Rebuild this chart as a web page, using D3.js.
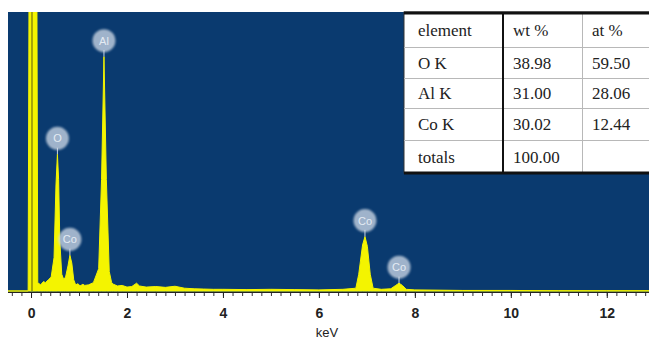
<!DOCTYPE html>
<html>
<head>
<meta charset="utf-8">
<script src="https://cdn.jsdelivr.net/npm/d3@7"></script>
<style>
  html, body { margin: 0; padding: 0; background: #fff; }
  svg { display: block; }
</style>
</head>
<body>
<div id="chart"></div>
<script>
// spectrum: energy (keV) and counts (0..1000 = full plot height)
const energy = [-0.48, -0.06, -0.04, 0.12, 0.14, 0.2, 0.26, 0.3, 0.36, 0.42, 0.48, 0.52, 0.55, 0.575, 0.6, 0.64,
  0.68, 0.72, 0.77, 0.81, 0.85, 0.89, 0.93, 0.98, 1.02, 1.08, 1.12, 1.2, 1.3, 1.41, 1.47, 1.52, 1.57, 1.63, 1.68, 1.72,
  1.8, 1.9, 2.0, 2.1, 2.2, 2.26, 2.4, 2.6, 2.8, 3.0, 3.2, 3.4, 3.6, 3.8, 4.0, 4.5, 5.0, 5.5, 6.0, 6.5,
  6.77, 6.83, 6.91, 6.96, 7.01, 7.07, 7.13, 7.3, 7.5, 7.6, 7.67, 7.74, 7.82, 8.0, 9.0, 10.0, 11.0, 12.0, 12.9];
const counts = [0, 0, 1200, 1200, 30, 22, 34, 30, 40, 50, 120, 380, 490, 400, 180, 60,
  42, 50, 90, 128, 100, 40, 22, 26, 18, 24, 20, 22, 30, 80, 400, 840, 400, 70, 30, 24,
  18, 20, 14, 16, 28, 18, 14, 16, 13, 17, 10, 8, 7, 6, 6, 5, 6, 5, 4, 6,
  10, 60, 165, 195, 160, 60, 10, 6, 8, 20, 28, 20, 6, 4, 2, 2, 1, 1, 1];

// peak markers
const peakNames = ["O", "Co", "Al", "Co", "Co"];
const peakEnergy = [0.55, 0.81, 1.52, 6.96, 7.67];
const peakCounts = [490, 128, 840, 195, 28];

// axis ticks
const majorTicks = [0, 2, 4, 6, 8, 10, 12];
const minorTicks = d3.range(-0.4, 12.9, 0.2);

// quantification table
const tableHeader = ["element", "wt %", "at %"];
const rowNames = ["O K", "Al K", "Co K", "totals"];
const wtPct = ["38.98", "31.00", "30.02", "100.00"];
const atPct = ["59.50", "28.06", "12.44", ""];

const width = 649, height = 340;
const plot = {left: 8, top: 12, right: 649, bottom: 292};

const x = d3.scaleLinear().domain([-0.48, 12.88]).range([plot.left, plot.right]);
const y = d3.scaleLinear().domain([0, 1000]).range([plot.bottom - 1, plot.top]);

const svg = d3.select("#chart").append("svg")
    .attr("width", width)
    .attr("height", height);

const defs = svg.append("defs");
defs.append("clipPath").attr("id", "plotClip")
  .append("rect")
    .attr("x", plot.left).attr("y", plot.top)
    .attr("width", plot.right - plot.left).attr("height", plot.bottom - plot.top);
defs.append("filter").attr("id", "glow")
    .attr("x", "-50%").attr("y", "-50%").attr("width", "200%").attr("height", "200%")
  .append("feGaussianBlur").attr("stdDeviation", 1.3);

svg.append("rect")
    .attr("x", plot.left).attr("y", plot.top)
    .attr("width", plot.right - plot.left).attr("height", plot.bottom - plot.top)
    .attr("fill", "#0a3a6f");

const data = energy.map((e, i) => ({e, c: counts[i]}));

const area = d3.area()
    .x(d => x(d.e))
    .y0(y(0))
    .y1(d => y(d.c));

const g = svg.append("g").attr("clip-path", "url(#plotClip)");

g.append("path")
    .datum(data)
    .attr("d", area)
    .attr("fill", "#f4f400")
    .attr("stroke", "#f4f400")
    .attr("stroke-width", 1);

// dark line inside the zero peak
g.append("line")
    .attr("x1", x(0.02)).attr("x2", x(0.02))
    .attr("y1", plot.top).attr("y2", y(0))
    .attr("stroke", "#5a5a10").attr("stroke-width", 1);

// peak labels
const peaks = peakNames.map((n, i) => ({n, e: peakEnergy[i], c: peakCounts[i]}));
const mark = g.selectAll("g.peak").data(peaks).join("g")
    .attr("class", "peak")
    .attr("transform", d => `translate(${x(d.e)},${y(d.c) - 16})`);

mark.append("line")
    .attr("y1", 8).attr("y2", 16)
    .attr("stroke", "#c8d4e2").attr("stroke-width", 1);
mark.append("circle")
    .attr("r", 11.5)
    .attr("fill", "#d4dde8")
    .attr("opacity", 0.75)
    .attr("filter", "url(#glow)");
mark.append("circle")
    .attr("r", 9.5)
    .attr("fill", "#9fb3cb");
mark.append("text")
    .attr("text-anchor", "middle")
    .attr("dy", "0.36em")
    .attr("font-family", "Liberation Sans, Arial, sans-serif")
    .attr("font-size", 11)
    .attr("fill", "#e4ebf3")
    .text(d => d.n);

// x axis
svg.append("g")
    .attr("transform", `translate(0,${plot.bottom})`)
    .call(d3.axisBottom(x).tickValues(minorTicks).tickSize(4).tickFormat(""))
    .call(a => a.select(".domain").remove())
    .call(a => a.selectAll("line").attr("stroke", "#333"));

svg.append("g")
    .attr("transform", `translate(0,${plot.bottom})`)
    .call(d3.axisBottom(x).tickValues(majorTicks).tickSize(6).tickPadding(10).tickFormat(d3.format("d")))
    .call(a => a.select(".domain").attr("stroke", "#222").attr("d", `M${plot.left},0.5H${plot.right}`))
    .call(a => a.selectAll("line").attr("stroke", "#222"))
    .call(a => a.selectAll("text")
        .attr("font-family", "Liberation Sans, Arial, sans-serif")
        .attr("font-size", 14)
        .attr("font-weight", "bold")
        .attr("fill", "#222"));

svg.append("text")
    .attr("x", 327).attr("y", 337)
    .attr("text-anchor", "middle")
    .attr("font-family", "Liberation Sans, Arial, sans-serif")
    .attr("font-size", 13)
    .attr("fill", "#222")
    .text("keV");

// table
const colX = [404, 503, 582, 660];
const rowY = [12, 47, 78, 108, 140, 173];
const tbl = svg.append("g");

tbl.append("rect")
    .attr("x", colX[0]).attr("y", rowY[0])
    .attr("width", colX[3] - colX[0]).attr("height", rowY[5] - rowY[0])
    .attr("fill", "#fff")
    .attr("stroke", "#333").attr("stroke-width", 1);

tbl.selectAll("line.h").data(rowY.slice(1, 5)).join("line")
    .attr("x1", colX[0]).attr("x2", colX[3])
    .attr("y1", d => d + 0.5).attr("y2", d => d + 0.5)
    .attr("stroke", "#b8b8b8");
tbl.append("line")
    .attr("x1", colX[2] + 0.5).attr("x2", colX[2] + 0.5)
    .attr("y1", rowY[0]).attr("y2", rowY[5])
    .attr("stroke", "#b8b8b8");
tbl.append("line")
    .attr("x1", colX[1]).attr("x2", colX[1])
    .attr("y1", rowY[0]).attr("y2", rowY[5])
    .attr("stroke", "#111").attr("stroke-width", 2);
[rowY[0] + 1, rowY[5]].forEach(yy => tbl.append("line")
    .attr("x1", colX[0]).attr("x2", colX[3])
    .attr("y1", yy).attr("y2", yy)
    .attr("stroke", "#111").attr("stroke-width", 3));

const cells = [tableHeader].concat(rowNames.map((r, i) => [r, wtPct[i], atPct[i]]));
const textX = [418, 513, 592];
cells.forEach((row, ri) => {
  row.forEach((t, ci) => {
    tbl.append("text")
        .attr("x", textX[ci])
        .attr("y", (rowY[ri] + rowY[ri + 1]) / 2 + 6)
        .attr("font-family", "Liberation Serif, Times New Roman, serif")
        .attr("font-size", 17)
        .attr("fill", "#222")
        .text(t);
  });
});
</script>
</body>
</html>
